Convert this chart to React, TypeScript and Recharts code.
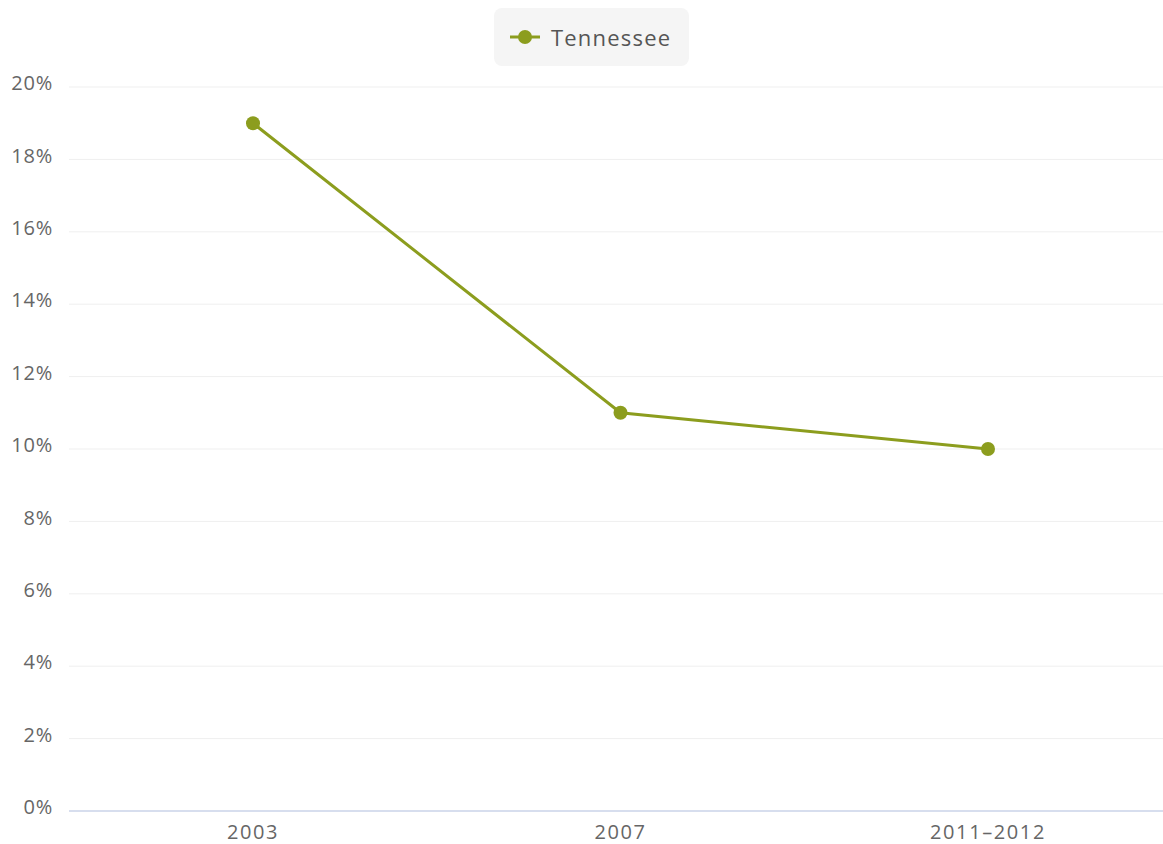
import { LineChart, Line, XAxis, YAxis, CartesianGrid, Legend } from "recharts";

const years = ["2003", "2007", "2011–2012"];
const tennessee = [19, 11, 10];
const yTicks = [0, 2, 4, 6, 8, 10, 12, 14, 16, 18, 20];

const data = years.map((year, i) => ({ year, Tennessee: tennessee[i] }));

const GREEN = "#8c9d1e";
const FONT = "'Open Sans', sans-serif";

function LegendBox() {
  return (
    <div
      style={{
        background: "#f5f5f5",
        borderRadius: 8,
        height: 58,
        width: 195,
        display: "flex",
        alignItems: "center",
        paddingLeft: 15,
        fontFamily: FONT,
        fontSize: 22,
        color: "#555",
        letterSpacing: 1.2,
        boxSizing: "border-box",
      }}
    >
      <svg width={32} height={16} style={{ marginRight: 10 }}>
        <line x1={1} y1={8} x2={31} y2={8} stroke={GREEN} strokeWidth={3} />
        <circle cx={16} cy={8} r={7} fill={GREEN} />
      </svg>
      <span>Tennessee</span>
    </div>
  );
}

export default function App() {
  return (
    <div
      style={{
        position: "absolute",
        left: 0,
        top: 0,
        width: 1163,
        height: 844,
        overflow: "hidden",
        background: "#fff",
      }}
    >
      <LineChart
        width={1175}
        height={844}
        data={data}
        margin={{ top: 29, right: 3, bottom: 0, left: 0 }}
      >
        <CartesianGrid vertical={false} stroke="#efefef" />
        <Legend
          verticalAlign="top"
          content={() => <LegendBox />}
          wrapperStyle={{ top: 8, left: 494, width: 195, height: 58 }}
        />
        <XAxis
          dataKey="year"
          height={33}
          padding={{ left: 184, right: 184 }}
          tickLine={false}
          tickSize={0}
          tickMargin={14}
          axisLine={{ stroke: "#ccd6eb", strokeWidth: 1.5 }}
          tick={{ fill: "#666", fontSize: 20, fontFamily: FONT, letterSpacing: 1.6 }}
        />
        <YAxis
          width={69}
          domain={[0, 20]}
          ticks={yTicks}
          tickFormatter={(v) => `${v}%`}
          axisLine={false}
          tickLine={false}
          tickSize={0}
          tickMargin={16}
          tick={{ fill: "#666", fontSize: 20, fontFamily: FONT, letterSpacing: 0.8, dy: -4 }}
        />
        <Line
          type="linear"
          dataKey="Tennessee"
          stroke={GREEN}
          strokeWidth={3}
          dot={{ r: 7, fill: GREEN, stroke: GREEN, strokeWidth: 0 }}
          activeDot={false}
          isAnimationActive={false}
        />
      </LineChart>
    </div>
  );
}
